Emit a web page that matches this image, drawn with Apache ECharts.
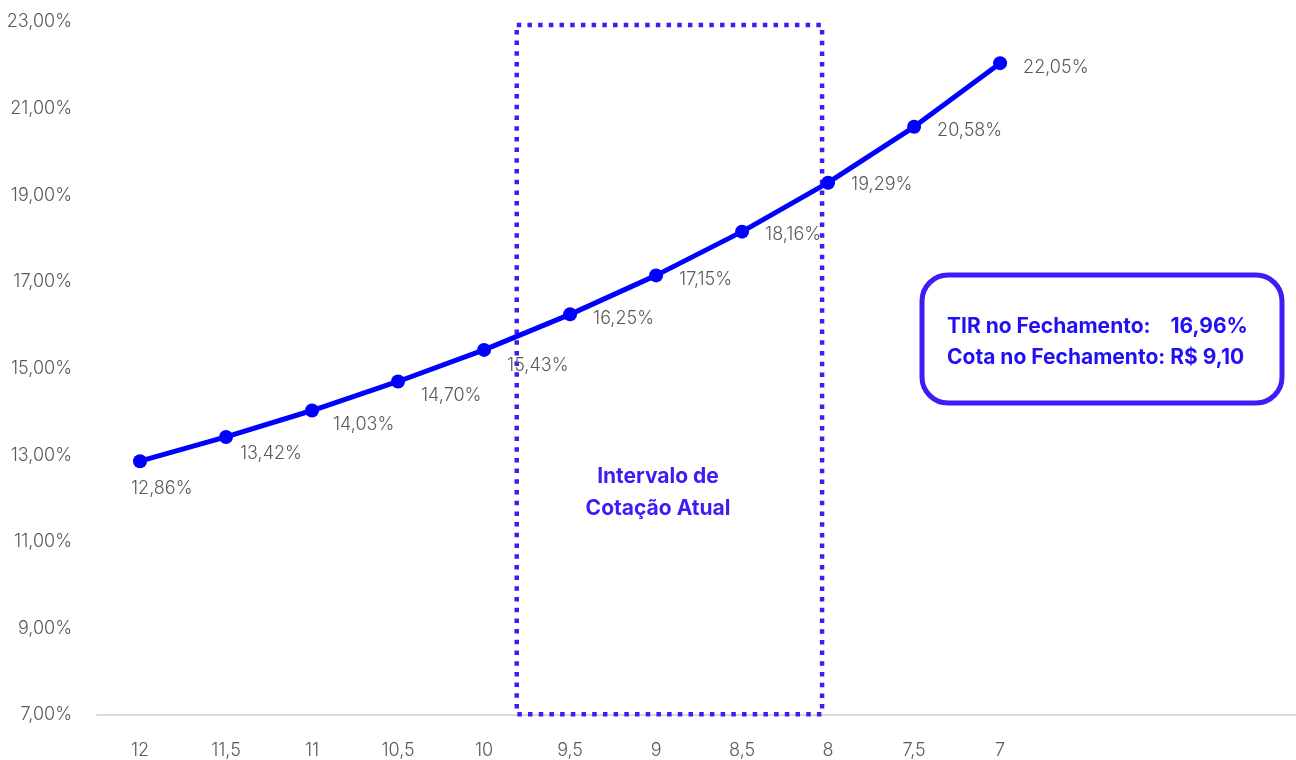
<!DOCTYPE html>
<html>
<head>
<meta charset="utf-8">
<script src="https://cdn.jsdelivr.net/npm/echarts@6/dist/echarts.min.js"></script>
<style>
  html, body { margin: 0; padding: 0; background: #fff; }
  #chart { width: 1296px; height: 760px; }
</style>
</head>
<body>
<div id="chart"></div>
<script>
// Preço da cota (R$) e TIR correspondente (%)
const priceLabels = ['12', '11,5', '11', '10,5', '10', '9,5', '9', '8,5', '8', '7,5', '7'];
const tirValues = [12.86, 13.42, 14.03, 14.70, 15.43, 16.25, 17.15, 18.16, 19.29, 20.58, 22.05];
const yTicks = { min: 7, max: 23, step: 2 };

// Eixo de preços em posições (0 = R$ 12); sobra espaço vazio à direita
const xRange = { min: -0.5, max: 13.44 };

// Faixa de cotação atual, nas mesmas posições do eixo de preços
const intervalFrom = 4.38;
const intervalTo = 7.93;

const closingTIR = '16,96%';
const closingQuote = 'R$ 9,10';

// Deslocamento de cada rótulo em relação ao ponto
const labelShift = [[-32, 27], [-9, 17], [-2, 14], [0, 14], [0, 16], [0, 4], [0, 4], [0, 3], [0, 2], [0, 4], [0, 4]];

const fmtPct = v => v.toFixed(2).replace('.', ',') + '%';
const BLUE = '#0000ff';
const ACCENT = '#3a1ef5';
const TEXT_BLUE = '#2210f5';
const GRAY = '#595959';
const FONT = 'Inter, "Open Sans", sans-serif';

const chart = echarts.init(document.getElementById('chart'), null, { renderer: 'canvas' });

const lineData = tirValues.map((v, i) => ({
  value: [i, v],
  label: { offset: labelShift[i] }
}));

const boxTop = yTicks.max - 0.07;
const boxBottom = yTicks.min + 0.02;

chart.setOption({
  animation: false,
  backgroundColor: '#ffffff',
  grid: { left: 97, right: 0, top: 22, bottom: 45, containLabel: false },
  xAxis: {
    type: 'value',
    min: xRange.min,
    max: xRange.max,
    axisLine: { show: true, onZero: false, lineStyle: { color: '#d9d9d9', width: 2 } },
    axisTick: { show: false },
    splitLine: { show: false },
    axisLabel: {
      customValues: priceLabels.map((_, i) => i),
      formatter: v => priceLabels[Math.round(v)] ?? '',
      color: GRAY, fontFamily: FONT, fontWeight: 300, fontSize: 18, margin: 27
    }
  },
  yAxis: {
    type: 'value',
    min: yTicks.min,
    max: yTicks.max,
    interval: yTicks.step,
    axisLine: { show: false },
    axisTick: { show: false },
    splitLine: { show: false },
    axisLabel: {
      color: GRAY, fontFamily: FONT, fontWeight: 300, fontSize: 18, margin: 25,
      formatter: v => fmtPct(v)
    }
  },
  series: [
    {
      name: 'Faixa atual',
      type: 'line',
      data: [
        [intervalFrom, boxTop], [intervalTo, boxTop],
        [intervalTo, boxBottom], [intervalFrom, boxBottom], [intervalFrom, boxTop]
      ],
      symbol: 'none',
      silent: true,
      z: 1,
      lineStyle: { color: ACCENT, width: 4.5, type: [4.5, 6.2], cap: 'butt', join: 'miter' }
    },
    {
      name: 'TIR',
      type: 'line',
      data: lineData,
      symbol: 'circle',
      symbolSize: 14,
      z: 3,
      itemStyle: { color: BLUE },
      lineStyle: { color: BLUE, width: 5 },
      label: {
        show: true,
        position: 'right',
        distance: 16,
        color: GRAY,
        fontFamily: FONT,
        fontWeight: 300,
        fontSize: 18,
        formatter: p => fmtPct(p.value[1])
      }
    }
  ],
  graphic: [
    {
      type: 'text',
      style: {
        x: 658, y: 493,
        text: 'Intervalo de\nCotação Atual',
        fill: ACCENT,
        font: '700 21px ' + FONT,
        align: 'center',
        verticalAlign: 'middle',
        lineHeight: 32
      },
      z: 10
    },
    {
      type: 'rect',
      shape: { x: 922, y: 275, width: 360, height: 128, r: 26 },
      style: { fill: '#ffffff', stroke: ACCENT, lineWidth: 5 },
      z: 10
    },
    {
      type: 'text',
      style: {
        x: 947, y: 327,
        text: 'TIR no Fechamento:    ' + closingTIR,
        fill: TEXT_BLUE,
        font: '700 21px ' + FONT,
        verticalAlign: 'middle'
      },
      z: 11
    },
    {
      type: 'text',
      style: {
        x: 947, y: 358,
        text: 'Cota no Fechamento: ' + closingQuote,
        fill: TEXT_BLUE,
        font: '700 21px ' + FONT,
        verticalAlign: 'middle'
      },
      z: 11
    }
  ]
});
</script>
</body>
</html>
